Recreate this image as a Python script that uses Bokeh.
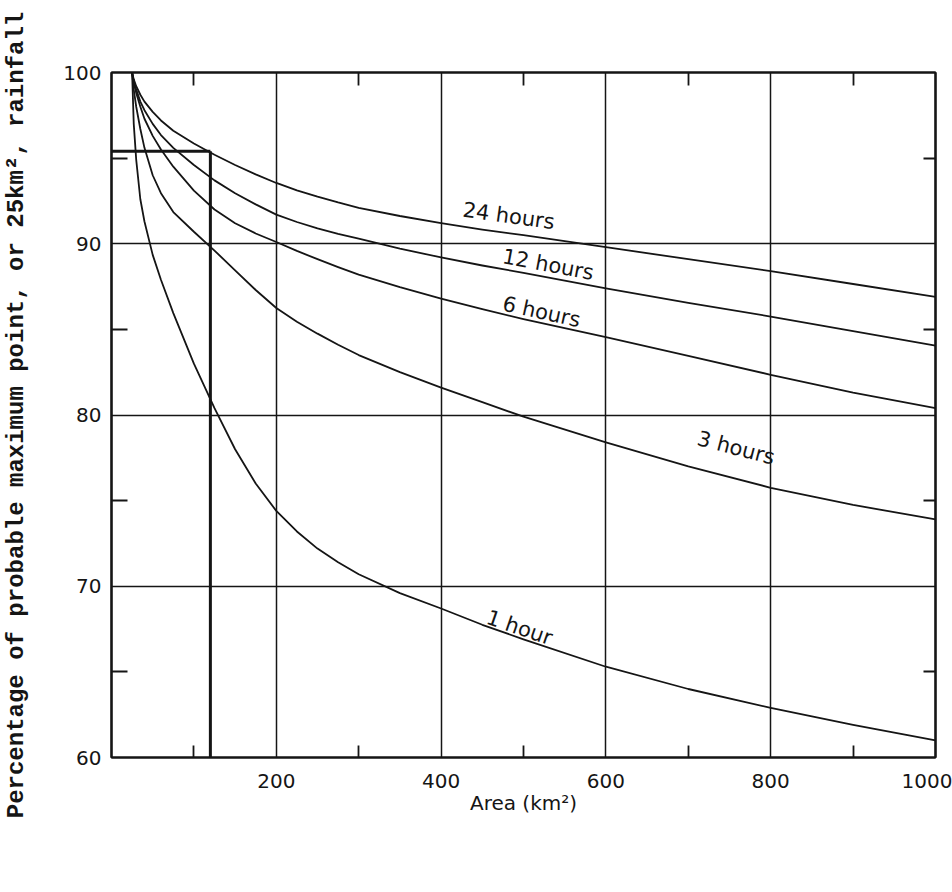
import math
import numpy as np
from bokeh.plotting import figure
from bokeh.models import FixedTicker, LinearAxis, Range1d
from bokeh.embed import file_html
from bokeh.resources import INLINE
from bokeh.core.properties import value

# ---------------- data ----------------
area = [25, 27, 30, 35, 40, 50, 60, 75, 100, 125, 150, 175, 200, 225, 250, 275,
        300, 350, 400, 450, 500, 600, 700, 800, 900, 1000]

pct_1h = [100.0, 97.0, 94.9, 92.6, 91.3, 89.35, 87.9, 85.95, 83.0, 80.4, 78.0,
          76.0, 74.4, 73.2, 72.2, 71.4, 70.7, 69.6, 68.7, 67.75, 66.9, 65.3,
          64.0, 62.9, 61.9, 61.0]
pct_3h = [100.0, 99.0, 98.0, 96.7, 95.6, 94.0, 92.95, 91.85, 90.7, 89.6, 88.45,
          87.3, 86.25, 85.45, 84.75, 84.1, 83.5, 82.5, 81.6, 80.75, 79.9, 78.4,
          77.0, 75.75, 74.75, 73.9]
pct_6h = [100.0, 99.4, 98.8, 98.0, 97.3, 96.3, 95.5, 94.5, 93.1, 92.0, 91.2,
          90.6, 90.1, 89.58, 89.1, 88.64, 88.2, 87.47, 86.8, 86.18, 85.6, 84.55,
          83.45, 82.35, 81.3, 80.4]
pct_12h = [100.0, 99.5, 99.0, 98.3, 97.8, 97.0, 96.35, 95.6, 94.6, 93.7, 92.95,
           92.3, 91.7, 91.27, 90.9, 90.58, 90.3, 89.72, 89.2, 88.73, 88.3, 87.4,
           86.55, 85.75, 84.9, 84.05]
pct_24h = [100.0, 99.6, 99.2, 98.7, 98.3, 97.7, 97.2, 96.6, 95.85, 95.2, 94.6,
           94.05, 93.55, 93.12, 92.75, 92.41, 92.1, 91.62, 91.2, 90.83, 90.5,
           89.8, 89.1, 88.4, 87.65, 86.9]

curve_labels = ["1 hour", "3 hours", "6 hours", "12 hours", "24 hours"]
label_area = [495, 758, 522, 530, 482]

# worked example drawn on the chart (area, percentage)
example_area = [120]
example_pct = [95.4]

x_ticks = [200, 400, 600, 800, 1000]
x_minor = [100, 300, 500, 700, 900]
y_ticks = [60, 70, 80, 90, 100]
y_minor = [65, 75, 85, 95]
x_grid = [200, 400, 600, 800]
y_grid = [70, 80, 90]

# ---------------- styling / layout ----------------
INK = "#151515"
W, H = 952, 892
BL, BR, BT, BB = 110, 17, 72, 135
x_lo, x_hi, y_lo, y_hi = 0, 1000, 60, 100
kx = (W - BL - BR) / (x_hi - x_lo)
ky = (H - BT - BB) / (y_hi - y_lo)
label_lift = [0.6, 1.8, 0.65, 0.75, 1.0]

p = figure(width=W, height=H, output_backend="svg", toolbar_location=None,
           x_range=Range1d(x_lo, x_hi), y_range=Range1d(y_lo, y_hi),
           min_border_left=BL, min_border_right=BR,
           min_border_top=BT, min_border_bottom=BB)
p.background_fill_color = "white"
p.border_fill_color = "white"
p.outline_line_color = INK
p.outline_line_width = 2.2

# grid
p.xgrid.ticker = FixedTicker(ticks=x_grid)
p.ygrid.ticker = FixedTicker(ticks=y_grid)
for g in (p.xgrid, p.ygrid):
    g.grid_line_color = INK
    g.grid_line_width = 1.5
    g.grid_line_alpha = 1.0


def style_axis(ax, ticks, minor, tick_in):
    ax.ticker = FixedTicker(ticks=ticks, minor_ticks=minor)
    ax.axis_line_color = INK
    ax.axis_line_width = 2.0
    ax.major_tick_line_color = None
    ax.major_tick_in = 0
    ax.major_tick_out = 0
    ax.minor_tick_line_color = INK
    ax.minor_tick_line_width = 1.8
    ax.minor_tick_in = tick_in
    ax.minor_tick_out = 0
    ax.major_label_text_font = "DejaVu Sans"
    ax.major_label_text_font_size = "20px"
    ax.major_label_text_color = INK


xa = p.xaxis[0]
style_axis(xa, x_ticks, x_minor, 12)
xa.major_label_standoff = 16
xa.axis_label = "Area (km²)"
xa.axis_label_text_font = "DejaVu Sans"
xa.axis_label_text_font_size = "20px"
xa.axis_label_text_font_style = "normal"
xa.axis_label_text_color = INK
xa.axis_label_standoff = 0

ya = p.yaxis[0]
style_axis(ya, y_ticks, y_minor, 16)
ya.major_label_standoff = 10
ya.axis_label = "Percentage of probable maximum point, or 25km², rainfall"
ya.axis_label_text_font = "Liberation Mono"
ya.axis_label_text_font_size = "24px"
ya.axis_label_text_font_style = "bold"
ya.axis_label_text_color = INK
ya.axis_label_standoff = 30

# top and right axes: inward minor ticks only, no labels
top_ax = LinearAxis()
style_axis(top_ax, [], x_minor, 13)
top_ax.major_label_standoff = 0
p.add_layout(top_ax, "above")
right_ax = LinearAxis()
style_axis(right_ax, [], y_minor, 12)
right_ax.major_label_standoff = 0
p.add_layout(right_ax, "right")

# curves
for s in (pct_1h, pct_3h, pct_6h, pct_12h, pct_24h):
    p.line(area, s, line_color=INK, line_width=1.8, line_join="round")

# worked example lines
p.line([x_lo, example_area[0]], [example_pct[0], example_pct[0]],
       line_color=INK, line_width=3.0)
p.line([example_area[0], example_area[0]], [example_pct[0], y_lo],
       line_color=INK, line_width=3.0)

# curve labels, rotated along their curves
series = [pct_1h, pct_3h, pct_6h, pct_12h, pct_24h]
lx, ly, la, lt = [], [], [], []
for text, a, lift, s in zip(curve_labels, label_area, label_lift, series):
    y0 = float(np.interp(a, area, s))
    slope = (float(np.interp(a + 30, area, s)) - float(np.interp(a - 30, area, s))) / 60.0
    lx.append(a)
    ly.append(y0 + lift)
    la.append(math.atan(slope * ky / kx))
    lt.append(text)
p.text(x=lx, y=ly, text=lt, angle=la, text_font=value("DejaVu Sans"),
       text_font_size="21px", text_color=INK, text_align="center",
       text_baseline="middle")

open("out.html", "w").write(file_html(p, INLINE))
